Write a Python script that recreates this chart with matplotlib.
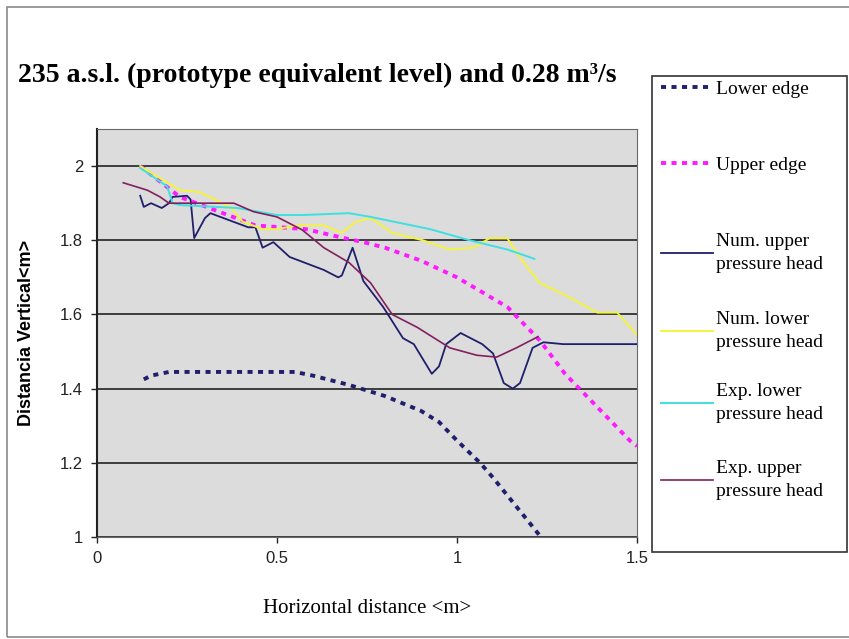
import matplotlib.pyplot as plt
from matplotlib.patches import Rectangle

# data (x in m, y in m)
lower_edge_x = [0.13, 0.15, 0.2, 0.3, 0.4, 0.5, 0.55, 0.6, 0.7, 0.8, 0.9, 0.95, 1.0, 1.064, 1.1, 1.15, 1.2, 1.233]
lower_edge_y = [1.425, 1.435, 1.445, 1.445, 1.445, 1.445, 1.445, 1.435, 1.41, 1.38, 1.34, 1.31, 1.26, 1.2, 1.16, 1.1, 1.04, 1.0]

upper_edge_x = [0.12, 0.23, 0.35, 0.44, 0.58, 0.69, 0.74, 0.8, 0.9, 1.0, 1.14, 1.23, 1.3, 1.4, 1.48, 1.5]
upper_edge_y = [2.0, 1.917, 1.873, 1.84, 1.83, 1.805, 1.795, 1.78, 1.745, 1.70, 1.62, 1.53, 1.44, 1.34, 1.26, 1.245]

num_upper_x = [0.12, 0.13, 0.15, 0.18, 0.2, 0.21, 0.25, 0.26, 0.27, 0.30, 0.315, 0.42, 0.44, 0.46, 0.49,
               0.535, 0.63, 0.67, 0.68, 0.71, 0.74, 0.795, 0.85, 0.88, 0.93, 0.95, 0.97, 1.01, 1.07, 1.10,
               1.13, 1.155, 1.175, 1.21, 1.24, 1.295, 1.35, 1.5]
num_upper_y = [1.92, 1.89, 1.90, 1.887, 1.90, 1.917, 1.92, 1.91, 1.806, 1.86, 1.873, 1.835, 1.835, 1.78, 1.795,
               1.755, 1.72, 1.70, 1.705, 1.78, 1.69, 1.62, 1.536, 1.52, 1.44, 1.46, 1.52, 1.55, 1.52, 1.495,
               1.415, 1.40, 1.415, 1.51, 1.525, 1.52, 1.52, 1.52]

num_lower_x = [0.12, 0.23, 0.285, 0.37, 0.405, 0.46, 0.5, 0.555, 0.63, 0.68, 0.72, 0.76, 0.82, 0.905,
               0.98, 1.045, 1.09, 1.14, 1.185, 1.23, 1.305, 1.39, 1.445, 1.5]
num_lower_y = [2.0, 1.935, 1.93, 1.89, 1.85, 1.83, 1.83, 1.84, 1.84, 1.82, 1.85, 1.86, 1.82, 1.80,
               1.775, 1.78, 1.805, 1.805, 1.74, 1.685, 1.65, 1.605, 1.605, 1.545]

exp_lower_x = [0.12, 0.195, 0.21, 0.23, 0.39, 0.5, 0.57, 0.70, 0.76, 0.925, 1.035, 1.14, 1.215]
exp_lower_y = [1.995, 1.945, 1.90, 1.895, 1.887, 1.868, 1.868, 1.873, 1.863, 1.83, 1.80, 1.775, 1.75]

exp_upper_x = [0.073, 0.14, 0.175, 0.2, 0.38, 0.435, 0.5, 0.57, 0.63, 0.70, 0.76, 0.82, 0.89, 0.98,
               1.055, 1.11, 1.165, 1.225]
exp_upper_y = [1.955, 1.935, 1.917, 1.90, 1.90, 1.877, 1.863, 1.828, 1.78, 1.74, 1.685, 1.60, 1.565, 1.51,
               1.49, 1.485, 1.51, 1.54]

x_ticks = [0, 0.5, 1, 1.5]
x_tick_labels = ['0', '0.5', '1', '1.5']
y_ticks = [1, 1.2, 1.4, 1.6, 1.8, 2]
y_tick_labels = ['1', '1.2', '1.4', '1.6', '1.8', '2']

navy = '#1f1f6b'
magenta = '#ff1aff'
yellow = '#f4f43c'
cyan = '#3ee0e0'
purple = '#82205f'

fig = plt.figure(figsize=(8.49, 6.39), dpi=100)
fig.patch.set_facecolor('white')

# outer chart border
fig.add_artist(Rectangle((7 / 849, 2 / 639), 1.0, 1 - 9 / 639, transform=fig.transFigure,
                         fill=False, edgecolor='#8a8a8a', lw=1.2))

ax = fig.add_axes([97 / 849, 1 - 537 / 639, 540 / 849, 408 / 639])
ax.set_facecolor('#dcdcdc')

ax.plot(lower_edge_x, lower_edge_y, color=navy, lw=2.8, dashes=(1.3, 1.4), label='Lower edge')
ax.plot(upper_edge_x, upper_edge_y, color=magenta, lw=2.8, dashes=(1.3, 1.4), label='Upper edge')
ax.plot(num_upper_x, num_upper_y, color=navy, lw=1.3, label='Num. upper\npressure head')
ax.plot(num_lower_x, num_lower_y, color=yellow, lw=1.4, label='Num. lower\npressure head')
ax.plot(exp_lower_x, exp_lower_y, color=cyan, lw=1.4, label='Exp. lower\npressure head')
ax.plot(exp_upper_x, exp_upper_y, color=purple, lw=1.2, label='Exp. upper\npressure head')

ax.set_xlim(0, 1.5)
ax.set_ylim(1, 2.1)
ax.set_xticks(x_ticks)
ax.set_xticklabels(x_tick_labels, family='Liberation Sans', fontsize=12)
ax.set_yticks(y_ticks)
ax.set_yticklabels(y_tick_labels, family='Liberation Sans', fontsize=12)
ax.tick_params(direction='out', length=4, width=1, colors='#222222', pad=6)
ax.yaxis.grid(True, color='#222222', lw=1.2)
ax.set_axisbelow(True)
for side in ['top', 'right', 'bottom']:
    ax.spines[side].set_color('#6a6a6a')
ax.spines['left'].set_color('#222222')
ax.spines['left'].set_linewidth(1.5)

ax.set_xlabel('Horizontal distance <m>', family='Liberation Serif', fontsize=15, labelpad=24)
ax.set_ylabel('Distancia Vertical<m>', family='Liberation Sans', fontsize=13, fontweight='bold', labelpad=18)

fig.text(18 / 849, 1 - 75 / 639, '235 a.s.l. (prototype equivalent level) and 0.28 m³/s',
         family='Liberation Serif', fontsize=20, fontweight='bold', va='center', ha='left')

# legend box, one entry per series placed down the box like the original
fig.add_artist(Rectangle((652 / 849, 1 - 552 / 639), 195 / 849, 476 / 639, transform=fig.transFigure,
                         fill=True, facecolor='white', edgecolor='#333333', lw=1.2))
legend_centres_px = [89, 165, 253, 331, 403, 480]
for line, yc in zip(ax.get_lines(), legend_centres_px):
    leg = fig.legend([line], [line.get_label()], loc='center left',
                     bbox_to_anchor=(651 / 849, 1 - yc / 639), frameon=False,
                     prop={'family': 'Liberation Serif', 'size': 14}, handlelength=2.7,
                     handletextpad=0.15, borderpad=0)
    for t in leg.get_texts():
        t.set_linespacing(1.4)

fig.savefig('out.png', dpi=100)
